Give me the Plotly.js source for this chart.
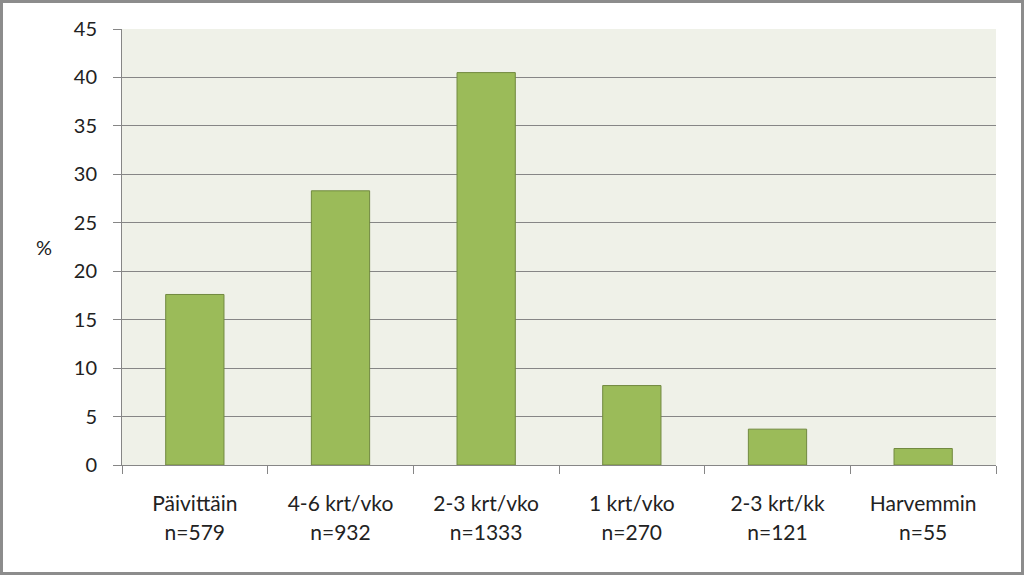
<!DOCTYPE html>
<html><head><meta charset="utf-8">
<script src="https://cdn.plot.ly/plotly-3.0.1.min.js"></script>
<style>
html,body{margin:0;padding:0;background:#fff;}
#wrap{position:relative;width:1024px;height:575px;overflow:hidden;}
#chart{position:absolute;left:0;top:0;width:1024px;height:575px;}
#frame{position:absolute;left:0;top:0;width:1024px;height:575px;box-sizing:border-box;border:3px solid #8c8c8c;pointer-events:none;}
</style></head><body>
<div id="wrap"><div id="chart"></div><div id="frame"></div></div>
<script>
const categories = ["Päivittäin","4-6 krt/vko","2-3 krt/vko","1 krt/vko","2-3 krt/kk","Harvemmin"];
const counts = ["n=579","n=932","n=1333","n=270","n=121","n=55"];
const percents = [17.6, 28.3, 40.5, 8.2, 3.7, 1.7];
const yTicks = [0,5,10,15,20,25,30,35,40,45];

const font = {family: "Lato, Open Sans, sans-serif", size: 20, color: "#222"};
const catFont = {family: "Lato, Open Sans, sans-serif", size: 21, color: "#222"};

const data = [
  {type:"bar", x:categories, y:percents, xaxis:"x", yaxis:"y",
   marker:{color:"#9BBB59", line:{color:"#71893F", width:1}}, hoverinfo:"skip"},
  {type:"bar", x:categories, y:percents, xaxis:"x2", yaxis:"y",
   marker:{color:"rgba(0,0,0,0)"}, hoverinfo:"skip", showlegend:false}
];

const layout = {
  width:1024, height:575,
  margin:{l:122, r:28, t:29, b:110},
  paper_bgcolor:"#ffffff", plot_bgcolor:"#EFF1E8",
  showlegend:false, bargap:0.6, font:font,
  xaxis:{type:"category", categoryarray:categories, range:[-0.5,5.5],
    tickson:"boundaries", ticks:"outside", ticklen:8, tickcolor:"#868686",
    showline:true, linecolor:"#868686", linewidth:1, showgrid:false, zeroline:false,
    ticklabelstandoff:20, tickfont:catFont, fixedrange:true},
  xaxis2:{type:"category", categoryarray:categories, range:[-0.5,5.5],
    overlaying:"x", side:"bottom", anchor:"y", matches:"x",
    ticks:"", showline:false, showgrid:false, zeroline:false,
    tickvals:categories, ticktext:counts, ticklabelstandoff:53, tickfont:catFont},
  yaxis:{range:[0,45], tickvals:yTicks, ticks:"outside", ticklen:8, tickcolor:"#868686",
    showline:true, linecolor:"#868686", linewidth:1,
    showgrid:true, gridcolor:"#868686", gridwidth:1, zeroline:false,
    ticklabelstandoff:12, tickfont:font},
  annotations:[{text:"%", xref:"paper", yref:"paper", x:-0.089, y:0.5, xanchor:"center", yanchor:"middle",
    showarrow:false, font:{family:font.family, size:20, color:"#222"}}]
};
Plotly.newPlot("chart", data, layout, {staticPlot:true, displayModeBar:false});
</script>
</body></html>
